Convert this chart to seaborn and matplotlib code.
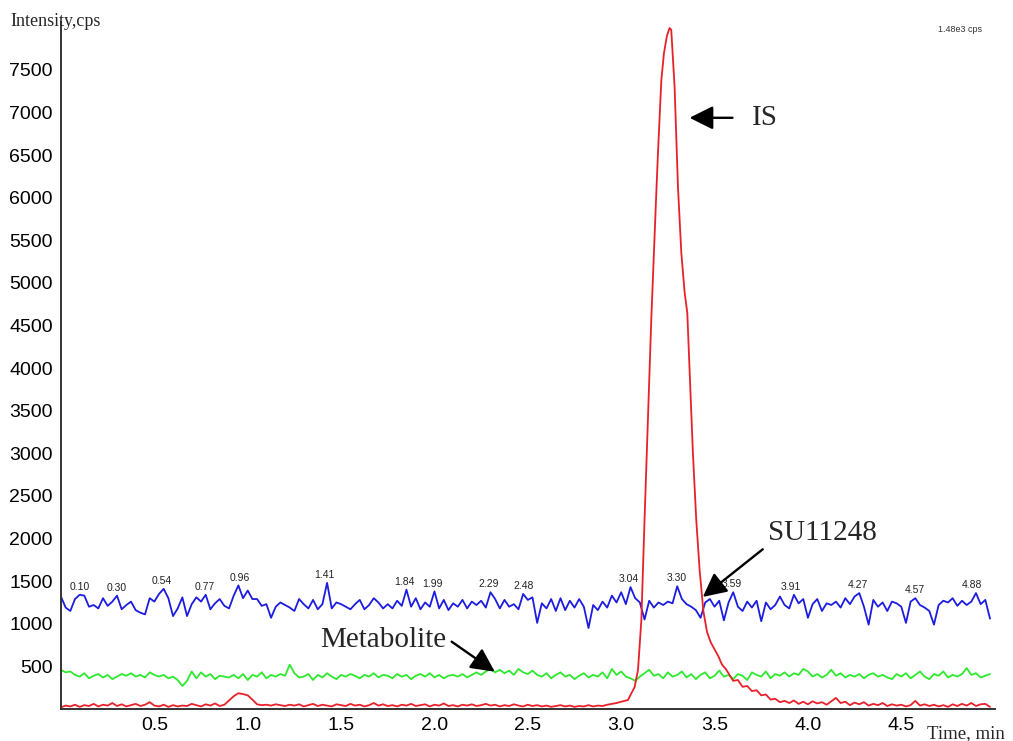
import numpy as np
import pandas as pd
import matplotlib
matplotlib.use("Agg")
import matplotlib.pyplot as plt
import seaborn as sns

# ---------------- data ----------------
grid_step = 0.025
blue_vals = [1318,1190,1150,1290,1340,1330,1200,1220,1180,1300,
             1210,1260,1330,1170,1220,1260,1160,1130,1110,1300,
             1260,1350,1410,1300,1090,1180,1310,1090,1230,1310,
             1260,1340,1170,1240,1290,1210,1180,1330,1450,1300,
             1390,1290,1290,1210,1230,1070,1200,1250,1220,1190,
             1150,1290,1230,1180,1280,1170,1230,1480,1180,1250,
             1230,1200,1170,1230,1280,1170,1220,1300,1250,1180,
             1230,1180,1270,1210,1400,1200,1300,1170,1250,1200,
             1380,1180,1280,1160,1240,1200,1280,1180,1260,1220,
             1270,1190,1370,1290,1180,1280,1200,1230,1170,1350,
             1280,1310,1010,1240,1180,1290,1150,1300,1160,1270,
             1190,1290,1200,950,1220,1160,1260,1190,1330,1250,
             1370,1230,1430,1300,1250,1050,1270,1190,1250,1220,
             1260,1240,1440,1290,1230,1200,1160,1070,1250,1290,
             1200,1270,1040,1250,1370,1200,1150,1260,1190,1270,
             1030,1250,1170,1220,1320,1220,1180,1340,1240,1290,
             1070,1230,1290,1150,1240,1220,1260,1190,1300,1230,
             1320,1360,1200,990,1280,1200,1250,1150,1260,1240,
             1200,1010,1260,1300,1220,1190,1150,990,1220,1270,
             1250,1300,1210,1270,1220,1260,1360,1230,1280,1060]

green_vals = [458,430,440,400,380,420,360,390,410,370,
              400,350,380,410,390,420,380,400,370,430,
              400,380,400,360,380,340,270,330,440,360,
              430,380,410,350,390,380,370,400,360,410,
              340,400,380,430,360,400,380,410,390,520,
              420,370,380,410,340,400,370,420,380,350,
              400,380,410,390,360,400,380,420,370,400,
              390,360,410,380,400,350,390,410,380,420,
              370,400,360,390,400,380,410,370,400,430,
              400,440,470,430,460,420,450,400,470,430,
              410,450,400,380,420,360,400,430,380,400,
              350,390,420,370,400,380,430,360,470,400,
              440,380,360,330,380,420,460,390,410,360,
              430,380,400,440,370,410,350,400,430,360,
              390,450,380,400,350,410,390,340,430,400,
              380,440,360,410,390,430,380,420,400,470,
              440,380,410,370,400,460,390,420,370,400,
              380,410,360,400,420,380,400,370,350,410,
              380,420,360,400,440,380,350,410,390,440,
              370,400,380,410,480,400,420,370,390,410]

red_base_vals = [20,40,30,50,25,45,35,60,30,50,
                 40,70,35,55,30,45,60,35,50,80,
                 40,30,50,25,45,30,40,35,60,45,
                 30,55,40,65,35,50,100,150,185,175,
                 160,110,55,45,50,40,55,45,35,50,
                 40,55,30,45,60,35,50,40,30,55,
                 45,35,60,40,50,30,45,70,40,55,
                 35,45,30,50,40,60,35,45,55,30,
                 50,40,65,35,45,30,50,40,55,35,
                 45,60,40,50,30,45,35,55,40,30,
                 50,35,45,30,40,25,35,45,30,40,
                 25,35,30,45,30,40,35,50,60,70]

red_peak_t = [3.000,3.036,3.072,3.090,3.108,3.125,3.143,3.161,3.175,3.188,
              3.197,3.215,3.229,3.245,3.259,3.268,3.286,3.304,3.322,3.340,
              3.354,3.366,3.384,3.402,3.420,3.440,3.460,3.480,3.500,3.520,
              3.540,3.560,3.580,3.600,3.625,3.650,3.675,3.700,3.725,3.750,
              3.775,3.800,3.825,3.850]
red_peak_v = [85,105,258,458,1045,2218,3390,4565,5350,6055,
              6525,7380,7695,7900,7990,7970,7300,6127,5350,4883,
              4648,3979,3005,2218,1631,1150,900,780,700,620,
              520,470,400,330,340,260,270,210,220,160,
              170,110,120,80]

red_tail_start = 3.875
red_tail_vals = [95,70,100,60,85,55,90,65,80,50,
                 90,130,70,85,45,75,55,80,40,60,
                 45,70,35,55,40,50,30,45,95,40,
                 55,35,50,30,45,25,55,35,60,40,
                 70,35,55,60,25]

peak_labels = ["0.10","0.30","0.54","0.77","0.96","1.41","1.84","1.99","2.29",
               "2.48","3.04","3.30","3.59","3.91","4.27","4.57","4.88"]

y_ticks = [500,1000,1500,2000,2500,3000,3500,4000,4500,5000,5500,6000,6500,7000,7500]
x_ticks = [0.5,1.0,1.5,2.0,2.5,3.0,3.5,4.0,4.5]

# ---------------- build frames ----------------
t_grid = np.arange(len(blue_vals)) * grid_step
blue_df = pd.DataFrame({"t": t_grid, "v": blue_vals})
green_df = pd.DataFrame({"t": t_grid, "v": green_vals})
red_t = np.concatenate([np.arange(len(red_base_vals)) * grid_step,
                        np.array(red_peak_t),
                        red_tail_start + np.arange(len(red_tail_vals)) * grid_step])
red_v = np.concatenate([red_base_vals, red_peak_v, red_tail_vals])
red_df = pd.DataFrame({"t": red_t, "v": red_v})

# ---------------- plot ----------------
sns.set_style("white")
plt.rcParams["font.family"] = ["Liberation Sans", "DejaVu Sans"]

fig = plt.figure(figsize=(10.13, 7.41), dpi=100)
ax = fig.add_axes([0.0602, 0.0432, 0.9217, 0.927])

sns.lineplot(data=blue_df, x="t", y="v", color="#1c1ce0", lw=1.3, ax=ax,
             estimator=None, sort=False)
sns.lineplot(data=green_df, x="t", y="v", color="#2ee82e", lw=1.3, ax=ax,
             estimator=None, sort=False)
sns.lineplot(data=red_df, x="t", y="v", color="#e8202a", lw=1.3, ax=ax,
             estimator=None, sort=False)

ax.set_xlim(0, 5.0)
ax.set_ylim(0, 8060)
ax.set_xticks(x_ticks)
ax.set_xticklabels([f"{v:.1f}" for v in x_ticks])
ax.set_yticks(y_ticks)
ax.set_yticklabels([str(v) for v in y_ticks])
ax.tick_params(axis="both", labelsize=14, colors="#222222", length=3, width=1,
               direction="out", pad=3)
ax.tick_params(axis="both", labelcolor="black")
ax.set_xlabel("")
ax.set_ylabel("")
for s in ["top", "right"]:
    ax.spines[s].set_visible(False)
for s in ["left", "bottom"]:
    ax.spines[s].set_color("#333333")
    ax.spines[s].set_linewidth(1.4)

# peak time labels on the blue trace
blue_arr = np.array(blue_vals)
for lab in peak_labels:
    tv = float(lab)
    mask = np.abs(t_grid - tv) <= 0.03
    vmax = blue_arr[mask].max()
    ax.annotate(lab, xy=(tv, vmax), xytext=(0, 2), textcoords="offset points",
                ha="center", va="bottom", fontsize=7.5, color="#222222")

serif = ["Liberation Serif", "DejaVu Serif"]
arrow_kw = dict(arrowstyle="-|>,head_length=0.4,head_width=0.2", mutation_scale=36,
                lw=1.7, color="black", shrinkA=0, shrinkB=0)

# IS
ax.annotate("", xy=(3.366, 6937), xytext=(3.596, 6937), arrowprops=arrow_kw)
ax.text(3.698, 6937, "IS", fontsize=21, family=serif, ha="left", va="center")
# SU11248
ax.annotate("", xy=(3.437, 1315), xytext=(3.758, 1874), arrowprops=arrow_kw)
ax.text(4.078, 2066, "SU11248", fontsize=21, family=serif, ha="center", va="center")
# Metabolite
ax.annotate("", xy=(2.323, 438), xytext=(2.092, 790), arrowprops=arrow_kw)
ax.text(1.388, 810, "Metabolite", fontsize=21, family=serif, ha="left", va="center")

fig.text(10 / 1013, 1 - 22 / 741, "Intensity,cps", fontsize=13, family=serif,
         ha="left", va="center")
fig.text(927 / 1013, 1 - 734 / 741, "Time, min", fontsize=13.5, family=serif,
         ha="left", va="center")
fig.text(938 / 1013, 1 - 30 / 741, "1.48e3 cps", fontsize=6.5, color="#333333",
         ha="left", va="center")

fig.savefig("out.png", dpi=100)
